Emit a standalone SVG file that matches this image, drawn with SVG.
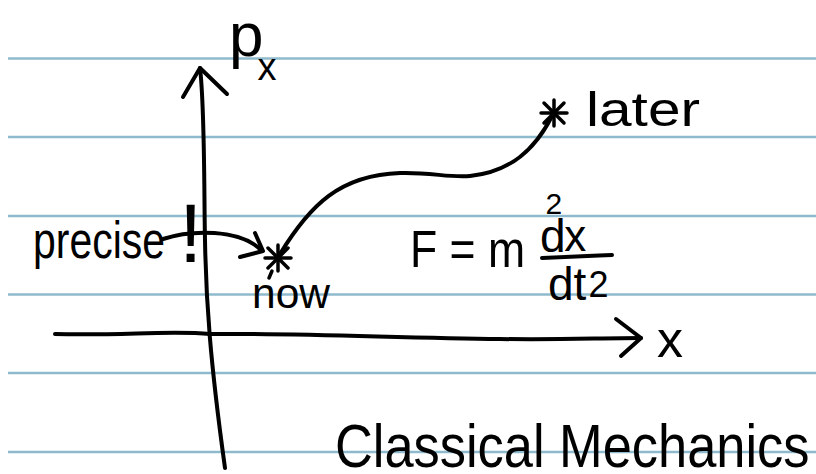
<svg xmlns="http://www.w3.org/2000/svg" width="816" height="474" viewBox="0 0 816 474">
<style>
.rule{stroke:#8fbacd;stroke-width:2.5;fill:none}
.ink{stroke:#000;stroke-width:4;fill:none;stroke-linecap:round;stroke-linejoin:round}
.star{stroke:#000;stroke-width:3.5;stroke-linecap:round}
.t{font-family:"Liberation Sans","DejaVu Sans",sans-serif;fill:#000}
</style>
<rect width="816" height="474" fill="#fff"/>
<g id="paper-lines">
<line class="rule" x1="8" y1="58.5" x2="816" y2="58.5"/>
<line class="rule" x1="8" y1="137" x2="816" y2="137"/>
<line class="rule" x1="8" y1="216" x2="816" y2="216"/>
<line class="rule" x1="8" y1="294.5" x2="816" y2="294.5"/>
<line class="rule" x1="8" y1="373" x2="816" y2="373"/>
<line class="rule" x1="8" y1="452" x2="816" y2="452"/>
</g>
<g id="axis-p">
<path class="ink" d="M200 68 C205 110 204 200 205 240 C206 300 210 360 225 468"/>
<path class="ink" d="M183 97 L200 68 L227 94"/>
<text class="t" x="229" y="56" font-size="62">p<tspan dx="-6" dy="24" font-size="38">x</tspan></text>
</g>
<g id="axis-x">
<path class="ink" d="M55 334 C120 336 170 330 210 334 C300 333 400 338 500 339 C560 340 600 338 641 338"/>
<path class="ink" d="M616 319 L641 338 L621 356"/>
<text class="t" x="657" y="357" font-size="52">x</text>
</g>
<g id="precise">
<text class="t" x="33" y="258" font-size="52" textLength="132" lengthAdjust="spacingAndGlyphs">precise</text>
<text class="t" x="179" y="262" font-size="84">!</text>
</g>
<g id="now">
<g transform="translate(278 258)">
<line class="star" x1="-13" y1="0" x2="13" y2="0"/>
<line class="star" x1="0" y1="-13" x2="0" y2="13"/>
<line class="star" x1="-10" y1="-10" x2="10" y2="10"/>
<line class="star" x1="-10" y1="10" x2="10" y2="-10"/>
<line class="star" x1="-6" y1="13" x2="-9" y2="20"/>
</g>
<text class="t" x="252" y="308" font-size="42" textLength="78" lengthAdjust="spacingAndGlyphs">now</text>
</g>
<g id="later">
<g transform="translate(554 113)">
<line class="star" x1="-13" y1="0" x2="13" y2="0"/>
<line class="star" x1="0" y1="-13" x2="0" y2="13"/>
<line class="star" x1="-10" y1="-10" x2="10" y2="10"/>
<line class="star" x1="-10" y1="10" x2="10" y2="-10"/>
</g>
<text class="t" x="586" y="126" font-size="48" textLength="114" lengthAdjust="spacingAndGlyphs">later</text>
</g>
<g id="formula">
<text class="t" x="410" y="267" font-size="52" textLength="115" lengthAdjust="spacingAndGlyphs">F = m</text>
<text class="t" x="540" y="252" font-size="46">d<tspan dx="-20" dy="-38" font-size="30">2</tspan><tspan dx="2" dy="37" font-size="44">x</tspan></text>
<path class="ink" d="M542 258 C570 257 590 256 612 255"/>
<text class="t" x="548" y="300" font-size="46">dt<tspan dx="2" dy="-3" font-size="36">2</tspan></text>
</g>
<g id="title">
<text class="t" font-size="62" transform="translate(335 467) scale(0.845 1)">Classical Mechanics</text>
</g>
<g id="connectors">
<path class="ink" d="M280 254 C310 205 340 175 400 173 C430 172 450 178 470 176 C510 172 535 150 552 116"/>
<path class="ink" d="M163 239 C190 230 240 228 262 251"/>
<path class="ink" d="M255 233 L263 251 L240 257"/>
</g>
</svg>
